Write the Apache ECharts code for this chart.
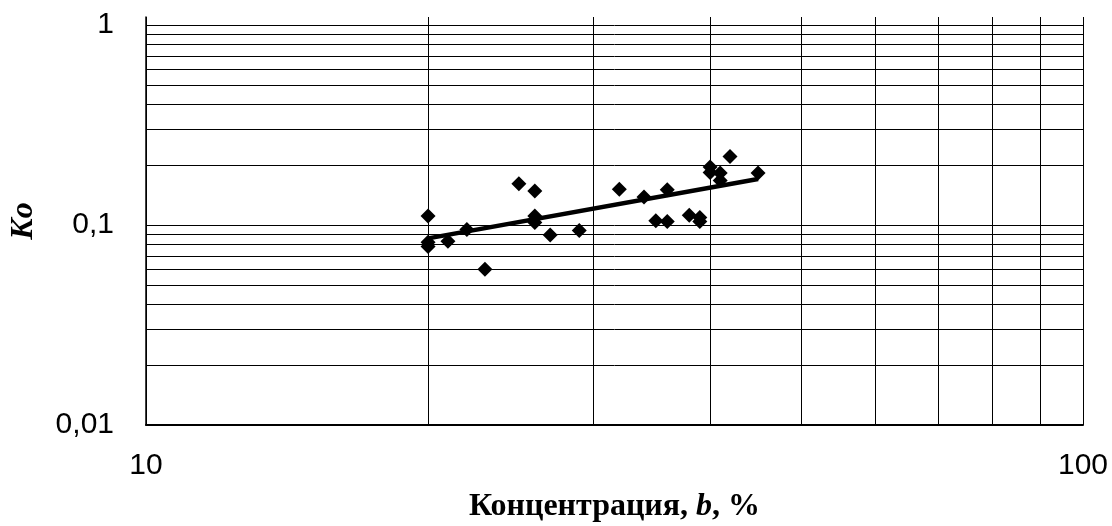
<!DOCTYPE html>
<html>
<head>
<meta charset="utf-8">
<script src="https://cdn.jsdelivr.net/npm/echarts@6/dist/echarts.min.js"></script>
<style>
  html, body { margin: 0; padding: 0; background: #fff; }
  #chart { width: 1112px; height: 526px; }
</style>
</head>
<body>
<div id="chart"></div>
<script>
// измерения: концентрация b (%) и Ko
var concX = [20, 20, 20, 21, 22, 23, 25, 26, 26, 26, 27, 29, 32, 34, 35, 36, 36, 38, 39, 39, 40, 40, 41, 41, 42, 45]
var koY = [0.111, 0.082, 0.078, 0.083, 0.095, 0.060, 0.161, 0.148, 0.111, 0.103, 0.089, 0.094, 0.151, 0.138, 0.105, 0.150, 0.104, 0.112, 0.109, 0.104, 0.195, 0.183, 0.182, 0.167, 0.220, 0.182]

// степенная линия тренда (концы)
var trendX = [20, 45]
var trendY = [0.0857, 0.170]

// подписи осей
var xTicks = [10, 100]
var xTickLabels = ['10', '100']
var yTicks = [0.01, 0.1, 1]
var yTickLabels = ['0,01', '0,1', '1']

// вспомогательная сетка
var xMinor = [20, 30, 40, 50, 60, 70, 80, 90]
var yMinor = [0.02, 0.03, 0.04, 0.05, 0.06, 0.07, 0.08, 0.09, 0.2, 0.3, 0.4, 0.5, 0.6, 0.7, 0.8, 0.9]

function tickLabel(v, ticks, labels) {
  for (var i = 0; i < ticks.length; i++) {
    if (Math.abs(Math.log10(v) - Math.log10(ticks[i])) < 1e-6) return labels[i]
  }
  return ''
}

var points = concX.map(function(x, i) { return [x, koY[i]] })
var trend = trendX.map(function(x, i) { return [x, trendY[i]] })

var gridLines = []
xMinor.forEach(function(v) { gridLines.push({ xAxis: v }) })
yMinor.forEach(function(v) { gridLines.push({ yAxis: v }) })

var chart = echarts.init(document.getElementById('chart'))
chart.setOption({
  animation: false,
  grid: { left: 146, right: 29, top: 17, bottom: 101, outerBoundsMode: 'none' },
  xAxis: {
    type: 'log',
    logBase: 10,
    min: 10,
    max: 100,
    name: '{a|Концентрация, }{b|b}{a|, %}',
    nameLocation: 'middle',
    nameGap: 66,
    nameTextStyle: {
      rich: {
        a: { fontFamily: 'Liberation Serif', fontWeight: 'bold', fontSize: 32, color: '#000' },
        b: { fontFamily: 'Liberation Serif', fontWeight: 'bold', fontStyle: 'italic', fontSize: 32, color: '#000' }
      }
    },
    axisLine: { lineStyle: { color: '#000', width: 2 } },
    axisTick: { show: false },
    axisLabel: {
      fontFamily: 'Liberation Sans', fontSize: 30, color: '#000', margin: 26,
      formatter: function(v) { return tickLabel(v, xTicks, xTickLabels) }
    },
    splitLine: { show: true, lineStyle: { color: '#000', width: 1 } }
  },
  yAxis: {
    type: 'log',
    logBase: 10,
    min: 0.01,
    max: 1.0965,
    name: 'Ko',
    nameLocation: 'middle',
    nameRotate: 90,
    nameGap: 106,
    nameTextStyle: { fontFamily: 'Liberation Serif', fontWeight: 'bold', fontStyle: 'italic', fontSize: 32, color: '#000' },
    axisLine: { lineStyle: { color: '#000', width: 1.5 } },
    axisTick: { show: false },
    axisLabel: {
      fontFamily: 'Liberation Sans', fontSize: 30, color: '#000', margin: 32,
      showMaxLabel: false,
      formatter: function(v) { return tickLabel(v, yTicks, yTickLabels) }
    },
    splitLine: { show: true, showMaxLine: false, lineStyle: { color: '#000', width: 1 } }
  },
  series: [
    {
      type: 'line',
      z: 1,
      data: [],
      markLine: {
        silent: true,
        symbol: ['none', 'none'],
        label: { show: false },
        lineStyle: { color: '#000', width: 1, type: 'solid' },
        data: gridLines
      }
    },
    {
      type: 'line',
      z: 3,
      data: trend,
      showSymbol: false,
      lineStyle: { color: '#000', width: 4.5 }
    },
    {
      type: 'scatter',
      z: 4,
      data: points,
      symbol: 'diamond',
      symbolSize: 15,
      itemStyle: { color: '#000', opacity: 1 }
    }
  ]
})
</script>
</body>
</html>
